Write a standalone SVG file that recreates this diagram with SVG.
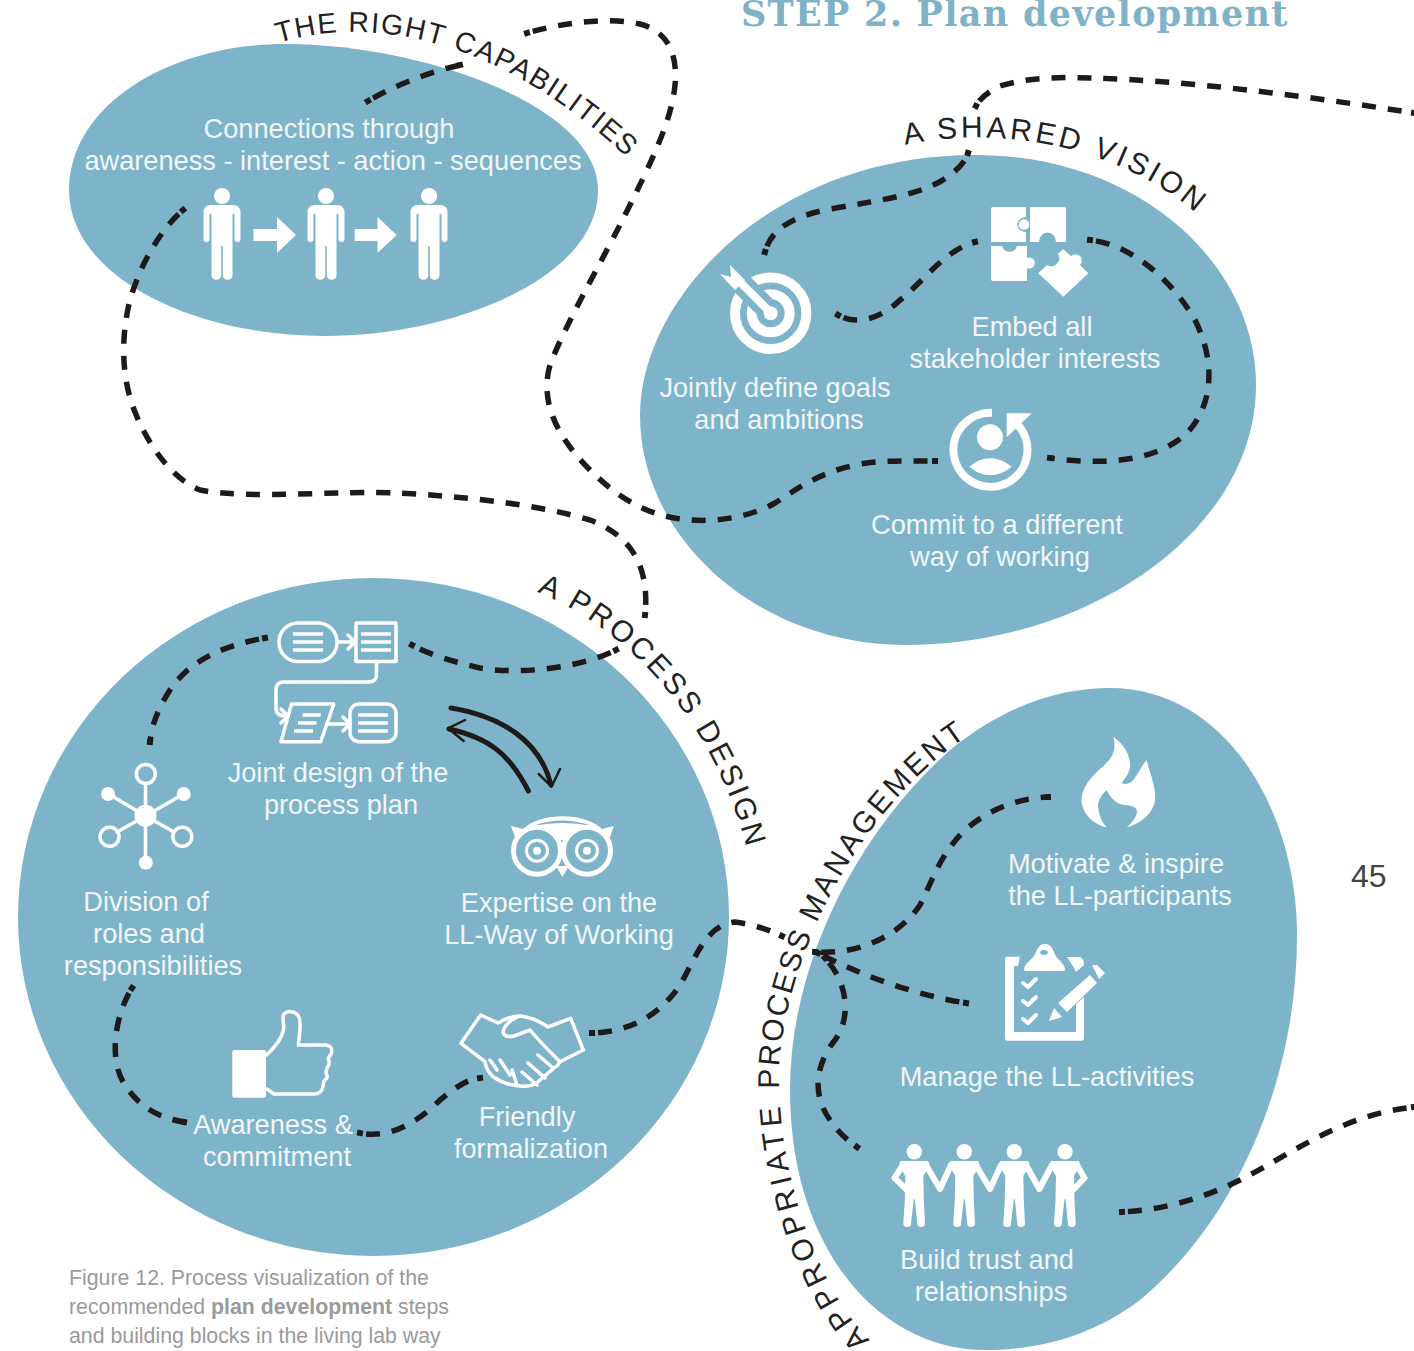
<svg xmlns="http://www.w3.org/2000/svg" xmlns:xlink="http://www.w3.org/1999/xlink" width="1414" height="1351" viewBox="0 0 1414 1351">
<style>
.blob{fill:#7db4c9}
.lab{font-family:"Liberation Sans",Arial,sans-serif;font-size:27.2px;fill:#f1f6f8;text-anchor:middle}
.arc{font-family:"Liberation Sans",Arial,sans-serif;font-size:30px;fill:#222}
.arc1{font-size:28.5px}
.dash{fill:none;stroke:#1f1a1a;stroke-width:5.5;stroke-dasharray:14 12;stroke-dashoffset:20;marker-start:url(#dot);marker-end:url(#dot)}
.w{fill:#fff}
.wl{fill:none;stroke:#fff;stroke-width:3.5;stroke-linecap:round;stroke-linejoin:round}
.cap{font-family:"Liberation Sans",Arial,sans-serif;font-size:21.3px;fill:#9a9a9a}
</style>
<defs>
<marker id="dot" markerUnits="userSpaceOnUse" markerWidth="7" markerHeight="7" refX="3.5" refY="3.5" orient="auto"><rect x="0.5" y="0.5" width="6" height="6" fill="#1f1a1a"/></marker>
<path id="p1" d="M278,43 C370,15 500,35 636,166"/>
<path id="p2" d="M905,145 C1000,124 1125,146 1206,222"/>
<path id="p3" d="M537,592 C625,628 712,715 748,852"/>
<path id="p4" d="M870,1340 C815,1285 778,1170 779,1075 C782,960 860,800 980,728"/>
<g id="person"><circle cx="0" cy="8" r="8" class="w"/><path class="w" d="M-11,17 H11 Q18.5,17 18.5,25 V51 A3,3 0 0 1 12.5,51 V26 H10.5 V88 A5,5 0 0 1 0.8,88 V58 H-0.8 V88 A5,5 0 0 1 -10.5,88 V26 H-12.5 V51 A3,3 0 0 1 -18.5,51 V25 Q-18.5,17 -11,17Z"/></g>
<g id="lines"><path d="M0,0h30M0,8h30M0,16h30" fill="none" stroke="#fff" stroke-width="3.5"/></g>
<g id="team"><circle cx="0" cy="1151.7" r="7.7" class="w"/><path class="w" d="M-13,1161 H13 Q15,1161 15,1166 L9,1176 L9.5,1200 L10.7,1224 Q10,1227 7,1227 Q3,1227 3,1224 L0.5,1199 L-0.5,1199 L-3.3,1224 Q-3.3,1227 -7,1227 Q-11,1227 -11,1224 L-9.5,1200 L-9,1176 L-15,1166 Q-15,1161 -13,1161Z"/></g>
</defs>

<text id="title" x="741" y="26" font-family="'DejaVu Serif',serif" font-weight="700" font-size="35" letter-spacing="1.3" fill="#7fb2c6">STEP 2. Plan development</text>

<g id="blob-capabilities">
<path class="blob" d="M69,190 C69,105 170,44 285,44 C420,44 598,105 598,190 C598,280 450,336 325,336 C190,336 69,275 69,190Z"/>
<text class="lab"><tspan x="329" y="138">Connections through</tspan><tspan x="333" y="170">awareness - interest - action - sequences</tspan></text>
<use xlink:href="#person" href="#person" x="222" y="188"/>
<use xlink:href="#person" href="#person" x="326" y="188"/>
<use xlink:href="#person" href="#person" x="429" y="188"/>
<path class="w" d="M253.5,229 H277 V217 L296,235 L277,253 V241 H253.5Z"/>
<path class="w" d="M354.7,229 H377.5 V217 L396.7,235 L377.5,253 V241 H354.7Z"/>
</g>

<g id="blob-vision">
<path class="blob" d="M640,415 C640,300 770,155 975,155 C1140,155 1256,265 1256,385 C1256,530 1090,645 905,645 C760,645 640,540 640,415Z"/>
<g id="goals">
<circle cx="770.7" cy="313.3" r="35.7" fill="none" stroke="#fff" stroke-width="10"/>
<circle cx="770.7" cy="313.3" r="19" fill="none" stroke="#fff" stroke-width="10"/>
<path d="M771,313 L735,277" stroke="#7db4c9" stroke-width="22" fill="none"/>
<circle cx="770.7" cy="313.3" r="7" class="w"/>
<path d="M771,313 L735,277" stroke="#fff" stroke-width="8" fill="none"/>
<path class="w" d="M720,274 L731,277 L730,265 L745,280 L735,290Z"/>
<text class="lab"><tspan x="775" y="397">Jointly define goals</tspan><tspan x="779" y="429">and ambitions</tspan></text>
</g>
<g id="embed">
<path class="w" d="M993,207 H1026 V217 A7.5,7.5 0 1 0 1026,232 V242 H991 V209 Q991,207 993,207Z"/>
<circle cx="1024" cy="224.5" r="6" fill="#fff" stroke="#7db4c9" stroke-width="1.5"/>
<path class="w" d="M1030,207 H1064 Q1066,207 1066,209 V242 H1056 A8.5,9.5 0 0 0 1039,242 H1030Z"/>
<path class="w" d="M991,246 H1002 A8,9 0 0 0 1017,246 H1027 V258 A5.5,5.5 0 1 1 1027,268 V281 H993 Q991,281 991,279Z"/>
<path class="w" d="M1038.3,273.3 L1047,265 A8,8 0 0 0 1058,254 L1063.3,249.3 L1071,256 A5.5,5.5 0 1 1 1080,265 L1088.3,273.3 L1063.3,296.7Z"/>
<text class="lab"><tspan x="1032" y="336">Embed all</tspan><tspan x="1035" y="368">stakeholder interests</tspan></text>
</g>
<g id="commit">
<path d="M992,412.8 A37,37 0 1 0 1017,424" fill="none" stroke="#fff" stroke-width="8"/>
<path class="w" d="M1006.7,413.3 H1031.7 L1006.7,437.3Z"/>
<circle cx="990" cy="437.3" r="13" class="w"/>
<path class="w" d="M969.3,466.7 Q990,450 1011.7,466.7 Q990,484 969.3,466.7Z"/>
<text class="lab"><tspan x="997" y="534">Commit to a different</tspan><tspan x="1000" y="566">way of working</tspan></text>
</g>
</g>

<g id="blob-process">
<ellipse class="blob" cx="373.5" cy="917" rx="355.5" ry="339"/>
<g id="plan">
<rect x="279" y="623" width="58" height="38.5" rx="19" class="wl"/>
<use xlink:href="#lines" href="#lines" x="293" y="634"/>
<rect x="356" y="623" width="40" height="38.5" class="wl"/>
<use xlink:href="#lines" href="#lines" x="361" y="634"/>
<path class="wl" d="M337,642 H354 M348,635 L355,642 L348,649"/>
<path class="wl" d="M376.5,662 V674 Q376.5,682 369,682 H284 Q276,682 276,690 V708 Q276,716 286,716 M281,709 L288,716 L281,723"/>
<path class="wl" d="M291.5,704 H333.8 L320.7,741.7 H281Z"/>
<path d="M302.5,715H320.7M298,723H316.6M294,731H313" fill="none" stroke="#fff" stroke-width="3.5"/>
<path class="wl" d="M327.6,724 H349 M343,717 L350,724 L343,731"/>
<rect x="350" y="704" width="46" height="37.7" rx="9" class="wl"/>
<use xlink:href="#lines" href="#lines" x="358" y="715"/>
<text class="lab"><tspan x="338" y="782">Joint design of the</tspan><tspan x="341" y="814">process plan</tspan></text>
</g>
<g id="swap" fill="none" stroke="#1f1a1a" stroke-linecap="round" stroke-linejoin="round">
<path stroke-width="5" d="M451,708 C500,716 540,740 551,785"/>
<path stroke-width="2.5" d="M538.7,774 L551.5,786.7 L560,769"/>
<path stroke-width="5" d="M528.4,791 C510,755 490,738 449,729"/>
<path stroke-width="2.5" d="M465,720 L448,728.3 L463.6,741"/>
</g>
<g id="expertise">
<path class="w" d="M511,826 L523,829 C540,812 585,812 602,829 L614,826 L609,840 L516,840Z"/>
<path d="M533,826 Q562,815 592,826 Q562,820 533,826Z" fill="#7db4c9"/>
<circle cx="537" cy="850.7" r="23.5" fill="#7db4c9" stroke="#fff" stroke-width="5"/>
<circle cx="587" cy="850.7" r="23.5" fill="#7db4c9" stroke="#fff" stroke-width="5"/>
<path class="w" d="M556,866 L562.4,877 L569,866Z"/>
<circle cx="537" cy="850.7" r="10.5" fill="none" stroke="#fff" stroke-width="3"/>
<circle cx="587" cy="850.7" r="10.5" fill="none" stroke="#fff" stroke-width="3"/>
<circle cx="537" cy="850.7" r="4" class="w"/>
<circle cx="587" cy="850.7" r="4" class="w"/>
<text class="lab"><tspan x="559" y="912">Expertise on the</tspan><tspan x="559" y="944">LL-Way of Working</tspan></text>
</g>
<g id="roles">
<path class="wl" d="M145.5,816 V784 M145.5,816 V858 M145.5,816 L112,796 M145.5,816 L180,796 M145.5,816 L117,832 M145.5,816 L174,832"/>
<circle cx="145.5" cy="815.7" r="11" class="w"/>
<circle cx="145.8" cy="774" r="9.5" fill="none" stroke="#fff" stroke-width="3.5"/>
<circle cx="145.8" cy="862.7" r="7" class="w"/>
<circle cx="108" cy="794" r="7" class="w"/>
<circle cx="183.7" cy="794" r="7" class="w"/>
<circle cx="109.6" cy="836.7" r="9.5" fill="none" stroke="#fff" stroke-width="3.5"/>
<circle cx="182.3" cy="836.7" r="9.5" fill="none" stroke="#fff" stroke-width="3.5"/>
<text class="lab"><tspan x="146" y="911">Division of</tspan><tspan x="149" y="943">roles and</tspan><tspan x="153" y="975">responsibilities</tspan></text>
</g>
<g id="awareness">
<rect x="232.3" y="1050" width="33.7" height="47.7" rx="2" class="w"/>
<path class="wl" d="M266.7,1055 C275,1047 281,1040 283.3,1031 C285,1022 281,1018 284,1014 C288,1010 296,1011 299,1017 C302,1025 299,1035 298.3,1045 H326 Q333,1046 331.5,1053 L328,1059 Q331,1063 327,1068 L326,1073 Q329,1078 324,1081 L323,1086 Q322,1094 314,1094 H274 L267,1089"/>
<text class="lab"><tspan x="273" y="1134">Awareness &amp;</tspan><tspan x="277" y="1166">commitment</tspan></text>
</g>
<g id="friendly">
<path class="wl" d="M461,1043.3 L480.7,1015 L498,1023 Q510,1016 520,1016 Q533,1017 548,1027 L570.7,1018.3 L583.3,1050 L560,1061.7 Q558,1066 554,1068 L536.7,1083 Q530,1087 520,1086 Q505,1085 493,1076.7 Q486,1070 485,1061.7Z"/>
<path class="wl" d="M520,1016 Q505,1022 503,1032 Q504,1038 514,1036 L530,1030 Q540,1042 560,1061.7 M490,1060 L497,1070 M500,1060 L510,1075 M512,1070 L517,1085 M538,1055 L553,1068 M528,1063 L545,1078 M522,1072 L537,1085"/>
<text class="lab"><tspan x="527" y="1126">Friendly</tspan><tspan x="531" y="1158">formalization</tspan></text>
</g>
</g>

<g id="blob-management">
<path class="blob" d="M1110,688 C1225,688 1297,810 1297,935 C1297,1090 1230,1225 1140,1300 C1090,1338 1035,1350 985,1350 C880,1350 790,1250 790,1090 C790,960 860,830 950,750 C1005,705 1060,688 1110,688Z"/>
<g id="motivate">
<path class="w" d="M1113.3,736.7 C1125,745 1131,757 1130,767 C1129,775 1124,779 1121.7,783.3 C1127,785 1131,783 1133.3,780 C1139,773 1142,765 1146.7,760 C1150,775 1156,785 1155,800 C1154,812 1141,824 1126.7,827.3 C1133,822 1138,815 1136.7,810 C1134,804 1125,806 1120,804 C1113,801 1109,795 1106.7,790 C1101,795 1097,802 1098.3,808 C1099,816 1102,822 1106.7,827.3 C1095,825 1084,816 1081.7,803 C1080,790 1090,778 1100,769 C1108,762 1118,754 1113.3,736.7Z"/>
<text class="lab"><tspan x="1116" y="873">Motivate &amp; inspire</tspan><tspan x="1120" y="905">the LL-participants</tspan></text>
</g>
<g id="manage">
<path class="w" d="M1007,956.7 H1020 L1018,966 H1014 V1032 H1076 V1004 L1084,997 V1038 Q1084,1040.7 1081,1040.7 H1007 Q1005,1040.7 1005,1038 V959 Q1005,956.7 1007,956.7Z"/>
<path class="w" d="M1067,957 H1080 Q1084,958 1084,965 L1076,972 L1074,968 Z"/>
<path class="w" fill-rule="evenodd" d="M1024,970 C1024,962 1034,960 1036,952 C1040,941 1050,941 1054,952 C1056,960 1065,962 1065,970 Q1065,971 1063,971 H1026 Q1024,971 1024,970Z M1044,950 a4,2.5 0 1 0 0.1,0Z"/>
<path d="M1023,983 L1028,987 L1036,979 M1023,1001 L1028,1005 L1036,997 M1023,1019 L1028,1023 L1036,1015" fill="none" stroke="#fff" stroke-width="4" stroke-linecap="round" stroke-linejoin="round"/>
<path class="w" d="M1058,1003 L1090,975 L1097,983 L1067,1012Z M1054,1008 L1049,1021 L1062,1017Z M1092,965 L1097,965 L1105,973 L1099,979Z"/>
<text class="lab" x="1047" y="1086">Manage the LL-activities</text>
</g>
<g id="trust">
<use xlink:href="#team" href="#team" x="914.3"/>
<use xlink:href="#team" href="#team" x="964.3"/>
<use xlink:href="#team" href="#team" x="1014.3"/>
<use xlink:href="#team" href="#team" x="1065"/>
<path d="M903,1165 L894.5,1178 L906,1189 M926,1165 L940,1189 L951,1165 M976,1165 L990,1189 L1001,1165 M1026,1165 L1039.3,1189 L1052,1165 M1077,1165 L1084.5,1178 L1074,1189" fill="none" stroke="#fff" stroke-width="6" stroke-linecap="round" stroke-linejoin="round"/>
<text class="lab"><tspan x="987" y="1269">Build trust and</tspan><tspan x="991" y="1301">relationships</tspan></text>
</g>
</g>

<g id="arc-labels">
<text class="arc arc1" letter-spacing="1.6"><textPath xlink:href="#p1" href="#p1">THE RIGHT CAPABILITIES</textPath></text>
<text class="arc" letter-spacing="3.3"><textPath xlink:href="#p2" href="#p2">A SHARED VISION</textPath></text>
<text class="arc" letter-spacing="3"><textPath xlink:href="#p3" href="#p3">A PROCESS DESIGN</textPath></text>
<text class="arc"><textPath xlink:href="#p4" href="#p4"><tspan letter-spacing="4.4">APPROPRIATE </tspan><tspan letter-spacing="2">PROCESS </tspan><tspan letter-spacing="3">MANAGEMENT</tspan></textPath></text>
</g>

<g id="connectors">
<path class="dash" d="M368,101 C395,85 430,72 460,65"/>
<path class="dash" d="M527,33 C565,22 610,17 640,24 C668,31 678,55 675,85 C672,120 650,165 625,215 C600,265 565,325 550,365 C540,400 555,435 590,470 C615,495 640,510 665,516 C700,525 745,520 775,503 C800,487 820,472 860,464 C885,460 910,461 935,461"/>
<path class="dash" d="M183,210 C160,230 140,265 130,300 C120,340 122,380 135,412 C150,450 175,480 200,490 C250,500 340,490 400,493 C470,497 540,505 590,520 C630,535 650,565 645,615"/>
<path class="dash" d="M616,650 C580,668 520,675 480,668 C455,662 430,655 412,645"/>
<path class="dash" d="M765,252 C772,225 800,215 830,209 C880,200 925,195 950,175 C960,168 966,160 968,153"/>
<path class="dash" d="M976,106 C980,98 988,92 1000,86 C1030,77 1060,77 1090,78 C1180,80 1300,95 1414,113"/>
<path class="dash" d="M838,315 C855,325 880,320 900,300 C925,280 945,250 975,242"/>
<path class="dash" d="M1090,240 C1135,245 1175,285 1195,320 C1215,360 1215,405 1185,435 C1150,465 1095,464 1050,458"/>
<path class="dash" d="M265,638 C225,645 190,660 170,690 C157,710 152,725 150,742"/>
<path class="dash" d="M132,988 C115,1015 108,1060 125,1085 C140,1108 160,1118 184,1122"/>
<path class="dash" d="M360,1133 C395,1140 425,1115 440,1100 C455,1088 465,1080 480,1078"/>
<path class="dash" d="M592,1033 C630,1032 660,1015 680,985 C695,960 705,925 735,922 C750,924 765,928 782,936"/>
<path class="dash" d="M818,953 C860,975 915,995 966,1003"/>
<path class="dash" d="M815,952 C860,955 900,935 920,905 C935,875 940,855 965,830 C990,808 1020,798 1048,797"/>
<path class="dash" d="M825,958 C850,985 850,1020 835,1040 C815,1065 812,1095 830,1120 C838,1132 847,1140 857,1147"/>
<path class="dash" d="M1122,1212 C1160,1210 1200,1200 1240,1180 C1290,1155 1340,1115 1414,1107"/>
</g>

<text id="page" x="1351" y="887" font-family="'Liberation Sans',sans-serif" font-size="32" fill="#444">45</text>
<text id="caption" class="cap"><tspan x="69" y="1285">Figure 12. Process visualization of the</tspan><tspan x="69" y="1314">recommended <tspan font-weight="700">plan development</tspan> steps</tspan><tspan x="69" y="1343">and building blocks in the living lab way</tspan></text>
</svg>
